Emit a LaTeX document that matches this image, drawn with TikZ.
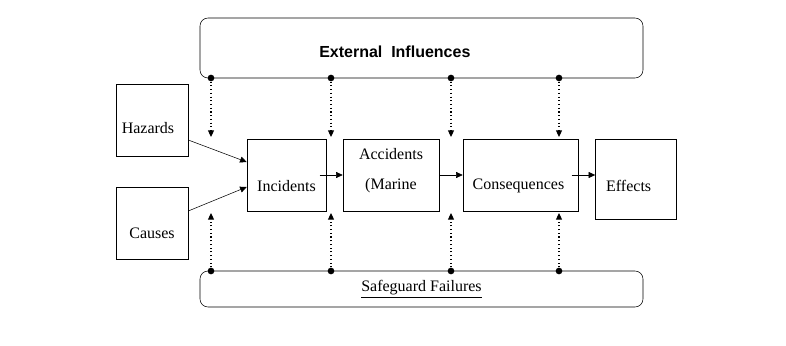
\documentclass[tikz,border=0pt,12pt]{standalone}
\usepackage{fontspec}
\setmainfont{Liberation Serif}
\newfontfamily\headfont{Liberation Sans}
\usetikzlibrary{arrows.meta,positioning}

\begin{document}
\begin{tikzpicture}[x=0.75pt,y=-0.75pt,
box/.style={draw, minimum width=#1, minimum height=54pt, inner sep=0pt},
band/.style={draw, rounded corners=6pt, minimum width=332.25pt, inner sep=0pt},
line/.style={-{Triangle[length=5pt,width=4.5pt]}},
feed/.style={line, dotted, thick},
pin/.style={circle, fill, inner sep=0pt, minimum size=5pt}
]
\useasboundingbox (0,0) rectangle (786,346);
% bands
\node[band, minimum height=45pt, label={[xshift=-20pt,yshift=-3pt,font=\headfont\bfseries]center:External\ \ Influences}] (ext) at (421.5,48) {};
\node[band, minimum height=27pt] (safe) at (421.5,289) {\underline{Safeguard Failures}};
% boxes
\node[box=54pt, label={[xshift=-3pt,yshift=-6pt]center:Hazards}] (hazards) at (152,120) {};
\node[box=54pt, label={[yshift=-8pt]center:Causes}] (causes) at (152,223) {};
\node[box=59.25pt, label={[yshift=-8pt]center:Incidents}] (incidents) at (286.5,175) {};
\node[box=72pt, label={[align=center,yshift=3pt]center:{Accidents\\[8pt](Marine}}] (accidents) at (391,175) {};
\node[box=86.25pt, label={[xshift=-1.5pt,yshift=-8pt]center:Consequences}] (consequences) at (520.5,175) {};
\node[box=60.75pt, minimum height=60pt, label={[xshift=-5.5pt,yshift=-5pt]center:Effects}] (effects) at (636,179) {};
% main flow
\draw[line] ([yshift=-15pt]hazards.east) -- ([yshift=9.75pt]incidents.west);
\draw[line] ([yshift=9pt]causes.east) -- ([yshift=-9pt]incidents.west);
\draw[line] ([xshift=-5pt]incidents.east) -- (accidents.west);
\draw[line] (accidents.east) -- (consequences.west);
\draw[line] ([xshift=-5pt]consequences.east) -- (consequences.east -| effects.west);
% influences and failures
\foreach \xx/\nm in {211/a,331/b,451/c,559/d} {
  \node[pin] (top\nm) at (\xx,78) {};
  \coordinate (topend\nm) at (\xx,137);
  \draw[feed] (top\nm) -- (topend\nm);
  \node[pin] (bot\nm) at (\xx,271) {};
  \coordinate (botend\nm) at (\xx,213);
  \draw[feed] (bot\nm) -- (botend\nm);
}
\end{tikzpicture}
\end{document}
